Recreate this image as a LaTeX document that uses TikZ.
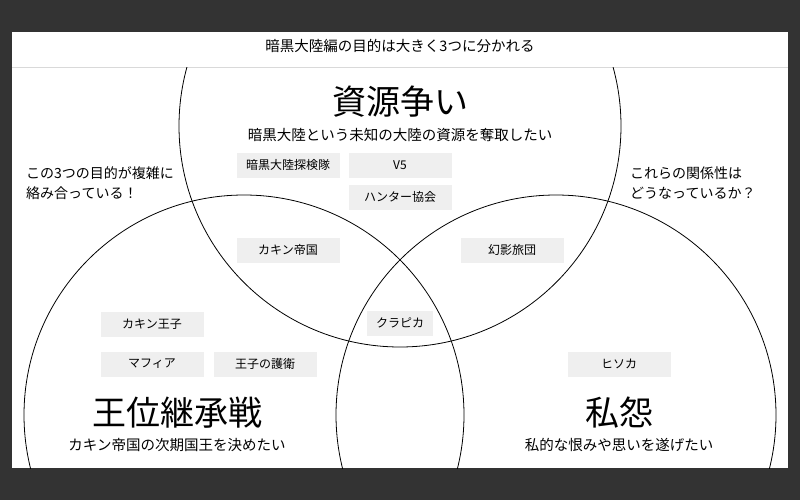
\documentclass[tikz,border=0pt]{standalone}
\usepackage{fontspec}
\setmainfont{Noto Sans CJK JP}
\definecolor{slidebg}{HTML}{333333}
\definecolor{boxgray}{HTML}{EFEFEF}
\definecolor{rulegray}{HTML}{D9D9D9}
\tikzset{
  item/.style={fill=boxgray, minimum width=103pt, minimum height=25pt, inner sep=0pt, font=\fontsize{12}{14}\selectfont},
  bigtitle/.style={inner sep=0pt, font=\fontsize{34}{40}\selectfont},
  subtitle/.style={inner sep=0pt, font=\fontsize{14.5}{17}\selectfont},
  note/.style={inner sep=0pt, anchor=west, align=left, font=\fontsize{14}{20}\selectfont},
}
\begin{document}
\begin{tikzpicture}[x=1pt, y=-1pt]
        % slide and header
        \useasboundingbox[fill=slidebg] (0,0) rectangle (800,500);
        \fill[white] (12,32) rectangle (788,468);
        \draw[rulegray, line width=1pt] (12,68) -- (788,68);
        \node[subtitle] (header) at (400,46) {暗黒大陸編の目的は大きく3つに分かれる};
        % three circles
        \begin{scope}
            \clip (12,68) rectangle (788,468);
            \draw[line width=0.8pt] (400,126) circle (221);
            \draw[line width=0.8pt] (244,415) circle (220);
            \draw[line width=0.8pt] (556,415) circle (220);
        \end{scope}
        % titles
        \node[bigtitle] (shigen)    at (400,102) {資源争い};
        \node[subtitle] (shigensub) at (400,135) {暗黒大陸という未知の大陸の資源を奪取したい};
        \node[bigtitle] (oui)       at (177,413) {王位継承戦};
        \node[subtitle] (ouisub)    at (177,445) {カキン帝国の次期国王を決めたい};
        \node[bigtitle] (shien)     at (619,413) {私怨};
        \node[subtitle] (shiensub)  at (619,445) {私的な恨みや思いを遂げたい};
        % notes
        \node[note] (leftnote)  at (26,183)  {この3つの目的が複雑に\\絡み合っている！};
        \node[note] (rightnote) at (630,183) {これらの関係性は\\どうなっているか？};
        % members
        \node[item] (tanken)  at (288,165) {暗黒大陸探検隊};
        \node[item] (vfive)   at (400,165) {V5};
        \node[item] (kyokai)  at (400,197) {ハンター協会};
        \node[item] (teikoku) at (288,250) {カキン帝国};
        \node[item] (ryodan)  at (512,250) {幻影旅団};
        \node[item] (ouji)    at (152,324) {カキン王子};
        \node[item] (mafia)   at (152,364) {マフィア};
        \node[item] (goei)    at (265,364) {王子の護衛};
        \node[item, minimum width=66pt] (kurapika) at (400,323) {クラピカ};
        \node[item] (hisoka)  at (619,364) {ヒソカ};
    \end{tikzpicture}
\end{document}
